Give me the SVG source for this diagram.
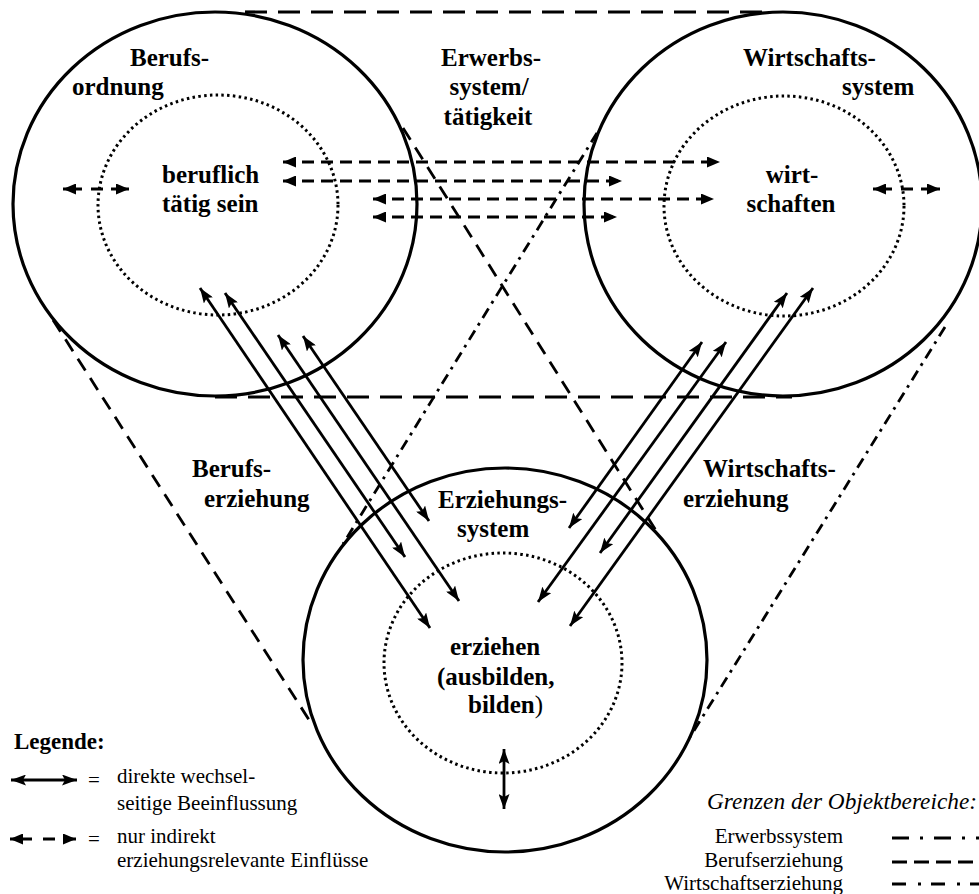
<svg xmlns="http://www.w3.org/2000/svg" width="979" height="894" viewBox="0 0 979 894">
<style>
.outer{fill:none;stroke:#000;stroke-width:3.2}
.inner{fill:none;stroke:#000;stroke-width:3;stroke-dasharray:2.5 3.3}
.lbl{font-family:"Liberation Serif","Times New Roman",serif;font-weight:bold;font-size:25px;fill:#000}
.mid{text-anchor:middle}
.leg{font-family:"Liberation Serif","Times New Roman",serif;font-size:21px;fill:#000}
.direct{fill:none;stroke:#000;stroke-width:2.8;marker-start:url(#hs);marker-end:url(#hs)}
.indirect{fill:none;stroke:#000;stroke-width:3.2;stroke-dasharray:12 7;marker-start:url(#ht);marker-end:url(#ht)}
.erw{fill:none;stroke:#000;stroke-width:3.2;stroke-dasharray:22 11}
.ber{fill:none;stroke:#000;stroke-width:2.8;stroke-dasharray:14 9}
.wir{fill:none;stroke:#000;stroke-width:2.8;stroke-dasharray:11 6 2.8 6}
</style>
<defs>
<marker id="hs" viewBox="0 0 15 11" refX="15" refY="5.5" markerWidth="15" markerHeight="11" markerUnits="userSpaceOnUse" orient="auto-start-reverse"><path d="M0,0 L15,5.5 L0,11 L3,5.5 z" fill="#000"/></marker>
<marker id="ht" viewBox="0 0 13 11" refX="13" refY="5.5" markerWidth="13" markerHeight="11" markerUnits="userSpaceOnUse" orient="auto-start-reverse"><path d="M0,0 L13,5.5 L0,11 z" fill="#000"/></marker>
</defs>
<rect width="979" height="894" fill="#fff"/>

<g id="boundaries">
<line class="erw" x1="245" y1="12" x2="763" y2="12"/>
<line class="erw" x1="215" y1="397" x2="792" y2="397"/>
<line class="ber" x1="53" y1="320" x2="313" y2="726"/>
<line class="ber" x1="403" y1="128" x2="660" y2="537"/>
<line class="wir" x1="945" y1="327" x2="690" y2="737"/>
<line class="wir" x1="597" y1="133" x2="343" y2="544"/>
</g>

<g id="berufsordnung">
<ellipse class="outer" cx="215" cy="204" rx="202" ry="192"/>
<ellipse class="inner" cx="218" cy="205" rx="120" ry="110"/>
<text class="lbl" x="130" y="66">Berufs-</text>
<text class="lbl" x="72" y="95">ordnung</text>
<text class="lbl" x="162" y="183">beruflich</text>
<text class="lbl" x="162" y="212">tätig sein</text>
</g>

<g id="wirtschaftssystem">
<ellipse class="outer" cx="783" cy="204" rx="199" ry="192"/>
<ellipse class="inner" cx="784" cy="206" rx="120" ry="110"/>
<text class="lbl" x="743" y="66">Wirtschafts-</text>
<text class="lbl" x="842" y="95">system</text>
<text class="lbl mid" x="792" y="183">wirt-</text>
<text class="lbl mid" x="791" y="212">schaften</text>
</g>

<g id="erziehungssystem">
<ellipse class="outer" cx="505" cy="660" rx="202" ry="192"/>
<ellipse class="inner" cx="503" cy="663" rx="119" ry="110"/>
<text class="lbl" x="438" y="508">Erziehungs-</text>
<text class="lbl" x="457" y="537">system</text>
<text class="lbl" x="450" y="655">erziehen</text>
<text class="lbl" x="437" y="685">(ausbilden,</text>
<text class="lbl" x="468" y="713">bilden<tspan font-weight="normal">)</tspan></text>
</g>

<g id="erwerbssystem">
<text class="lbl mid" x="491" y="66">Erwerbs-</text>
<text class="lbl mid" x="489" y="95">system/</text>
<text class="lbl mid" x="488" y="125">tätigkeit</text>
</g>

<g id="berufserziehung">
<text class="lbl" x="192" y="477">Berufs-</text>
<text class="lbl" x="204" y="507">erziehung</text>
</g>

<g id="wirtschaftserziehung">
<text class="lbl" x="703" y="477">Wirtschafts-</text>
<text class="lbl" x="683" y="507">erziehung</text>
</g>

<g id="connectors">
<line class="indirect" x1="283" y1="162" x2="720" y2="162"/>
<line class="indirect" x1="283" y1="181" x2="622" y2="181"/>
<line class="indirect" x1="373" y1="199" x2="714" y2="199"/>
<line class="indirect" x1="373" y1="217" x2="617" y2="217"/>
<line class="indirect" x1="63" y1="189" x2="129" y2="189" style="stroke-dasharray:19 9 12 8 19"/>
<line class="indirect" x1="873" y1="189" x2="940" y2="189" style="stroke-dasharray:19 9 12 8 19"/>
<line class="direct" x1="200" y1="288" x2="430" y2="628"/>
<line class="direct" x1="225" y1="293" x2="405" y2="557"/>
<line class="direct" x1="278" y1="335" x2="459" y2="601"/>
<line class="direct" x1="303" y1="336" x2="429" y2="521"/>
<line class="direct" x1="702" y1="342" x2="569" y2="528"/>
<line class="direct" x1="726" y1="342" x2="538" y2="602"/>
<line class="direct" x1="787" y1="293" x2="600" y2="553"/>
<line class="direct" x1="813" y1="288" x2="570" y2="626"/>
<line class="direct" x1="504" y1="749" x2="504" y2="809"/>
</g>

<g id="legende">
<text class="lbl" x="14" y="749" style="font-size:23px">Legende:</text>
<line class="direct" x1="11" y1="780" x2="77" y2="780"/>
<text class="leg" x="88" y="787">=</text>
<text class="leg" x="117" y="783">direkte wechsel-</text>
<text class="leg" x="117" y="810">seitige Beeinflussung</text>
<line class="indirect" x1="10" y1="839" x2="76" y2="839" style="stroke-dasharray:22 11 12 8 13"/>
<text class="leg" x="88" y="846">=</text>
<text class="leg" x="117" y="843">nur indirekt</text>
<text class="leg" x="117" y="867">erziehungsrelevante Einflüsse</text>
</g>

<g id="grenzen">
<text class="leg" x="977" y="809" text-anchor="end" font-style="italic" style="font-size:23.3px">Grenzen der Objektbereiche:</text>
<text class="leg" x="843" y="843" text-anchor="end">Erwerbssystem</text>
<text class="leg" x="843" y="867" text-anchor="end">Berufserziehung</text>
<text class="leg" x="843" y="890" text-anchor="end">Wirtschaftserziehung</text>
<line x1="892" y1="838" x2="979" y2="838" stroke="#000" stroke-width="3" stroke-dasharray="17 11 3 11"/>
<line x1="892" y1="862" x2="979" y2="862" stroke="#000" stroke-width="3" stroke-dasharray="15 7"/>
<line x1="892" y1="884" x2="979" y2="884" stroke="#000" stroke-width="3" stroke-dasharray="14 12 3 10"/>
</g>
</svg>
